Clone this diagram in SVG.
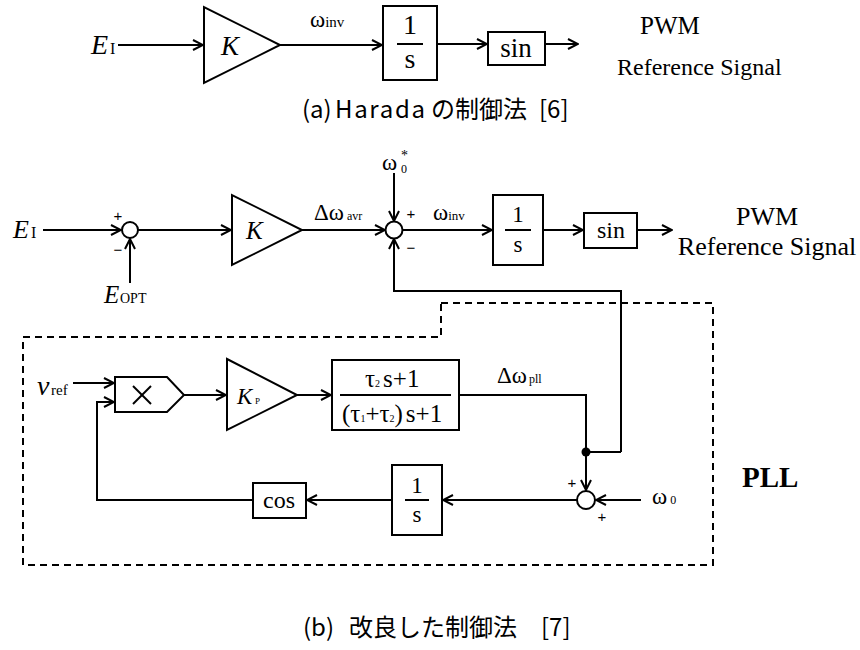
<svg xmlns="http://www.w3.org/2000/svg" width="860" height="650" viewBox="0 0 860 650">
<style>
.ln{fill:none;stroke:#000;stroke-width:2}
.bx{fill:#fff;stroke:#000;stroke-width:2}
.ar{fill:none;stroke:#000;stroke-width:2;marker-end:url(#arr)}
.dash{fill:none;stroke:#000;stroke-width:2;stroke-dasharray:7 5}
.t{font-family:"Liberation Serif","Times New Roman",serif;fill:#000}
.i{font-style:italic}
.c{text-anchor:middle}
.cap{font-family:"Noto Sans CJK JP","Noto Sans",sans-serif;fill:#000}
.pm{font-family:"Liberation Sans",Arial,sans-serif;font-size:15px;fill:#000;text-anchor:middle}
</style>
<defs>
<marker id="arr" viewBox="0 0 12 12" refX="11" refY="6" markerWidth="12" markerHeight="12" markerUnits="userSpaceOnUse" orient="auto">
<path d="M1,1 L11,6 L1,11" fill="none" stroke="#000" stroke-width="2"/>
</marker>
</defs>

<!-- (a) -->
<g id="a-connectors">
<line class="ar" x1="118" y1="45" x2="203" y2="45"/>
<line class="ar" x1="280" y1="45" x2="382" y2="45"/>
<line class="ar" x1="437" y1="44" x2="487" y2="44"/>
<line class="ar" x1="545" y1="44" x2="578" y2="44"/>
</g>
<g id="a-EI"><text class="t i" x="91" y="54" font-size="28">E</text><text class="t" x="110" y="54" font-size="16">I</text></g>
<g id="a-K"><polygon class="bx" points="204,7 204,83 280,45"/><text class="t i c" x="230" y="55" font-size="27">K</text></g>
<g id="a-winv"><text class="t" x="310" y="27" font-size="23">ω<tspan font-size="15">inv</tspan></text></g>
<g id="a-int"><rect class="bx" x="383" y="6" width="54" height="74"/><text class="t c" x="410" y="34" font-size="28">1</text><line class="ln" x1="397" y1="44" x2="423" y2="44"/><text class="t c" x="410" y="68" font-size="28">s</text></g>
<g id="a-sin"><rect class="bx" x="488" y="32" width="57" height="33"/><text class="t c" x="516" y="57" font-size="27">sin</text></g>
<g id="a-pwm"><text class="t" x="640" y="34" font-size="25">PWM</text><text class="t" x="617" y="75" font-size="24">Reference Signal</text></g>
<g id="a-caption"><text class="cap" y="118" font-size="24"><tspan x="302">(a)</tspan><tspan x="335" textLength="90" lengthAdjust="spacing">Harada</tspan><tspan x="431">の制御法</tspan><tspan x="539">[6]</tspan></text></g>

<!-- (b) -->
<g id="b-connectors">
<line class="ar" x1="43" y1="230" x2="121" y2="230"/>
<line class="ar" x1="130" y1="283" x2="130" y2="239"/>
<line class="ar" x1="138" y1="230" x2="231" y2="230"/>
<line class="ar" x1="302" y1="230" x2="385" y2="230"/>
<line class="ar" x1="394" y1="173" x2="394" y2="221"/>
<line class="ar" x1="403" y1="230" x2="492" y2="230"/>
<line class="ar" x1="543" y1="230" x2="583" y2="230"/>
<line class="ar" x1="637" y1="230" x2="672" y2="230"/>
<polyline class="ar" points="621,452 621,291 394,291 394,239"/>
<line class="ar" x1="73" y1="383" x2="114" y2="383"/>
<polyline class="ar" points="253,500 97,500 97,402 114,402"/>
<line class="ar" x1="184" y1="395" x2="226" y2="395"/>
<line class="ar" x1="297" y1="395" x2="331" y2="395"/>
<polyline class="ar" points="459,395 586,395 586,490"/>
<line class="ln" x1="586" y1="452" x2="621" y2="452"/>
<circle cx="586" cy="452" r="4.5" fill="#000"/>
<line class="ar" x1="641" y1="500" x2="596" y2="500"/>
<line class="ar" x1="577" y1="500" x2="443" y2="500"/>
<line class="ar" x1="392" y1="500" x2="307" y2="500"/>
</g>
<path id="pll-frame" class="dash" d="M441,303 H713 V565 H23 V337 H441 Z"/>

<g id="b-EI"><text class="t i" x="13" y="238" font-size="26">E</text><text class="t" x="31" y="238" font-size="16">I</text></g>
<g id="b-sum1"><circle class="bx" cx="130" cy="230" r="8"/><text class="pm" x="118" y="221">+</text><text class="pm" x="118" y="255">−</text></g>
<g id="b-EOPT"><text class="t i" x="104" y="303" font-size="25">E</text><text class="t" x="120" y="303" font-size="14">OPT</text></g>
<g id="b-K"><polygon class="bx" points="232,195 232,265 302,230"/><text class="t i" x="246" y="239" font-size="25">K</text></g>
<g id="b-dwavr"><text class="t" x="314" y="220" font-size="23">Δω<tspan font-size="12" dx="3">avr</tspan></text></g>
<g id="b-w0star"><text class="t" x="382" y="170" font-size="23">ω</text><text class="t" x="401" y="173" font-size="12">0</text><text class="t" x="401" y="160" font-size="14">*</text></g>
<g id="b-sum2"><circle class="bx" cx="394" cy="230" r="8.5"/><text class="pm" x="411" y="219">+</text><text class="pm" x="411" y="253">−</text></g>
<g id="b-winv"><text class="t" x="433" y="220" font-size="23">ω<tspan font-size="13">inv</tspan></text></g>
<g id="b-int"><rect class="bx" x="493" y="195" width="50" height="70"/><text class="t c" x="518" y="222" font-size="23">1</text><line class="ln" x1="505" y1="230" x2="531" y2="230"/><text class="t c" x="518" y="252" font-size="23">s</text></g>
<g id="b-sin"><rect class="bx" x="584" y="213" width="53" height="35"/><text class="t c" x="611" y="238" font-size="24">sin</text></g>
<g id="b-pwm"><text class="t c" x="767" y="225" font-size="26">PWM</text><text class="t c" x="767" y="255" font-size="26">Reference Signal</text></g>

<g id="pll-vref"><text class="t i" x="37" y="395" font-size="28">v</text><text class="t" x="51" y="395" font-size="15">ref</text></g>
<g id="pll-mult"><polygon class="bx" points="115,377 167,377 184,395 167,412 115,412"/><line class="ln" x1="133" y1="386" x2="151" y2="404"/><line class="ln" x1="151" y1="386" x2="133" y2="404"/></g>
<g id="pll-Kp"><polygon class="bx" points="227,359 227,430 297,395"/><text class="t i" x="237" y="404" font-size="23">K</text><text class="t" x="255" y="404" font-size="9">P</text></g>
<g id="pll-filter"><rect class="bx" x="332" y="360" width="127" height="70"/>
<text class="t" x="365" y="387" font-size="25">τ<tspan font-size="10">2</tspan><tspan dx="3">s+1</tspan></text>
<line class="ln" x1="340" y1="395" x2="451" y2="395"/>
<text class="t" x="342" y="422" font-size="25">(τ<tspan font-size="10">1</tspan>+τ<tspan font-size="10">2</tspan>)<tspan dx="3">s+1</tspan></text></g>
<g id="pll-dwpll"><text class="t" x="497" y="383" font-size="23">Δω<tspan font-size="12" dx="2">pll</tspan></text></g>
<g id="pll-sum"><circle class="bx" cx="586" cy="500" r="9"/><text class="pm" x="572" y="488">+</text><text class="pm" x="602" y="522">+</text></g>
<g id="pll-w0"><text class="t" x="652" y="504" font-size="23">ω<tspan font-size="12" dx="3">0</tspan></text></g>
<g id="pll-int"><rect class="bx" x="392" y="465" width="50" height="70"/><text class="t c" x="417" y="493" font-size="23">1</text><line class="ln" x1="405" y1="500" x2="429" y2="500"/><text class="t c" x="417" y="522" font-size="23">s</text></g>
<g id="pll-cos"><rect class="bx" x="253" y="483" width="53" height="35"/><text class="t c" x="279" y="508" font-size="24">cos</text></g>
<g id="pll-label"><text class="t" x="742" y="487" font-size="29" font-weight="bold">PLL</text></g>
<g id="b-caption"><text class="cap" y="636" font-size="24"><tspan x="303">(b)</tspan><tspan x="349">改良した制御法</tspan><tspan x="541">[7]</tspan></text></g>
</svg>
